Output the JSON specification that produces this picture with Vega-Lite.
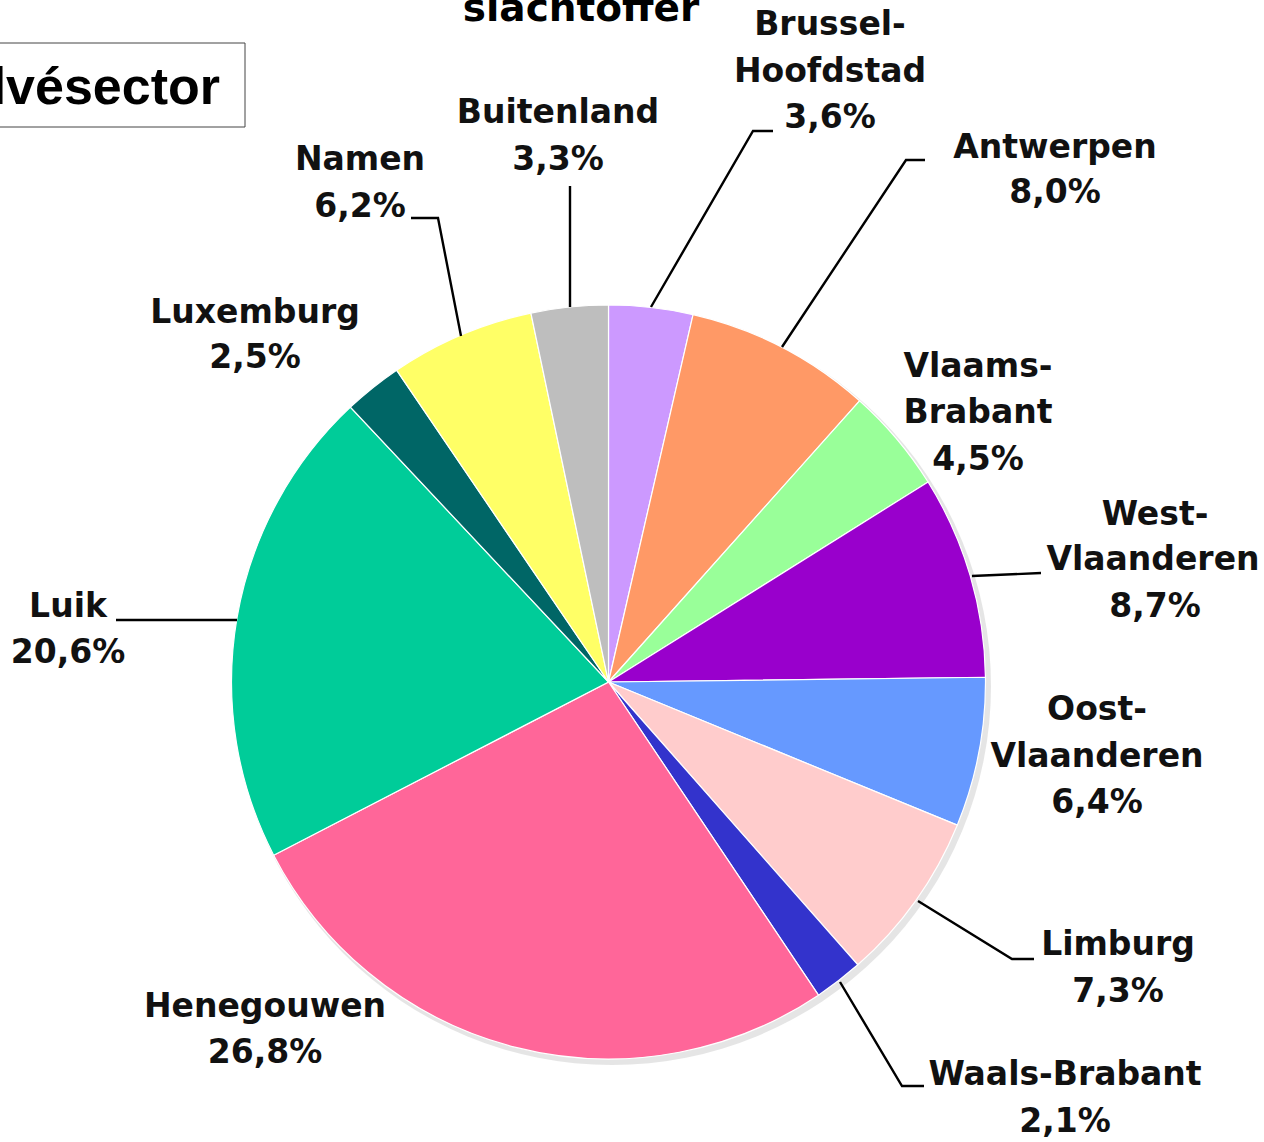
{
  "$schema": "https://vega.github.io/schema/vega-lite/v6.json",
  "width": 1264,
  "height": 1142,
  "autosize": "none",
  "padding": 0,
  "background": "white",
  "config": {"view": {"stroke": null}},
  "layer": [
    {
      "data": {"values": [{"pct": 100}]},
      "mark": {"type": "arc", "outerRadius": 379, "fill": "#888888", "opacity": 0.22},
      "encoding": {
        "theta": {"field": "pct", "type": "quantitative"},
        "x": {"datum": 612, "type": "quantitative", "scale": {"domain": [0, 1264], "nice": false, "zero": false}, "axis": null},
        "y": {"datum": 686, "type": "quantitative", "scale": {"domain": [0, 1142], "nice": false, "zero": false, "reverse": true}, "axis": null}
      }
    },
    {
      "data": {"values": [
        {"region": "Brussel-Hoofdstad", "pct": 3.6, "ord": 1},
        {"region": "Antwerpen", "pct": 8.0, "ord": 2},
        {"region": "Vlaams-Brabant", "pct": 4.5, "ord": 3},
        {"region": "West-Vlaanderen", "pct": 8.7, "ord": 4},
        {"region": "Oost-Vlaanderen", "pct": 6.4, "ord": 5},
        {"region": "Limburg", "pct": 7.3, "ord": 6},
        {"region": "Waals-Brabant", "pct": 2.1, "ord": 7},
        {"region": "Henegouwen", "pct": 26.8, "ord": 8},
        {"region": "Luik", "pct": 20.6, "ord": 9},
        {"region": "Luxemburg", "pct": 2.5, "ord": 10},
        {"region": "Namen", "pct": 6.2, "ord": 11},
        {"region": "Buitenland", "pct": 3.3, "ord": 12}
      ]},
      "mark": {"type": "arc", "outerRadius": 377, "stroke": "white", "strokeWidth": 1.2},
      "encoding": {
        "theta": {"field": "pct", "type": "quantitative", "stack": true},
        "order": {"field": "ord", "type": "quantitative"},
        "color": {
          "field": "region", "type": "nominal", "legend": null,
          "scale": {
            "domain": ["Brussel-Hoofdstad", "Antwerpen", "Vlaams-Brabant", "West-Vlaanderen", "Oost-Vlaanderen", "Limburg", "Waals-Brabant", "Henegouwen", "Luik", "Luxemburg", "Namen", "Buitenland"],
            "range": ["#CC99FF", "#FF9966", "#99FF99", "#9900CC", "#6699FF", "#FFCCCC", "#3333CC", "#FF6699", "#00CC99", "#006666", "#FFFF66", "#BEBEBE"]
          }
        },
        "x": {"datum": 608.5, "type": "quantitative", "scale": {"domain": [0, 1264], "nice": false, "zero": false}, "axis": null},
        "y": {"datum": 682, "type": "quantitative", "scale": {"domain": [0, 1142], "nice": false, "zero": false, "reverse": true}, "axis": null}
      }
    },
    {
      "data": {"values": [
        {"id": "Buitenland", "seq": 1, "x": 570, "y": 186},
        {"id": "Buitenland", "seq": 2, "x": 570, "y": 307},
        {"id": "Namen", "seq": 1, "x": 411, "y": 218},
        {"id": "Namen", "seq": 2, "x": 438, "y": 218},
        {"id": "Namen", "seq": 3, "x": 461, "y": 336},
        {"id": "Brussel", "seq": 1, "x": 773, "y": 131},
        {"id": "Brussel", "seq": 2, "x": 753, "y": 131},
        {"id": "Brussel", "seq": 3, "x": 651, "y": 307},
        {"id": "Antwerpen", "seq": 1, "x": 925, "y": 160},
        {"id": "Antwerpen", "seq": 2, "x": 906, "y": 160},
        {"id": "Antwerpen", "seq": 3, "x": 782, "y": 347},
        {"id": "West", "seq": 1, "x": 972, "y": 576},
        {"id": "West", "seq": 2, "x": 1041, "y": 573},
        {"id": "Luik", "seq": 1, "x": 116, "y": 620},
        {"id": "Luik", "seq": 2, "x": 237, "y": 620},
        {"id": "Limburg", "seq": 1, "x": 918, "y": 901},
        {"id": "Limburg", "seq": 2, "x": 1012, "y": 959},
        {"id": "Limburg", "seq": 3, "x": 1034, "y": 959},
        {"id": "Waals", "seq": 1, "x": 840, "y": 982},
        {"id": "Waals", "seq": 2, "x": 902, "y": 1086},
        {"id": "Waals", "seq": 3, "x": 924, "y": 1086}
      ]},
      "mark": {"type": "line", "color": "black", "strokeWidth": 2.4},
      "encoding": {
        "x": {"field": "x", "type": "quantitative", "scale": {"domain": [0, 1264], "nice": false, "zero": false}, "axis": null},
        "y": {"field": "y", "type": "quantitative", "scale": {"domain": [0, 1142], "nice": false, "zero": false, "reverse": true}, "axis": null},
        "detail": {"field": "id"},
        "order": {"field": "seq", "type": "quantitative"}
      }
    },
    {
      "data": {"values": [{"x1": -10, "x2": 245, "y1": 43, "y2": 127}]},
      "mark": {"type": "rect", "fill": "white", "stroke": "#444444", "strokeWidth": 1},
      "encoding": {
        "x": {"field": "x1", "type": "quantitative", "scale": {"domain": [0, 1264], "nice": false, "zero": false}, "axis": null},
        "x2": {"field": "x2"},
        "y": {"field": "y1", "type": "quantitative", "scale": {"domain": [0, 1142], "nice": false, "zero": false, "reverse": true}, "axis": null},
        "y2": {"field": "y2"}
      }
    },
    {
      "data": {"values": [{"t": "lvésector", "x": 220, "y": 104}]},
      "mark": {"type": "text", "font": "Liberation Sans", "fontWeight": "bold", "fontSize": 52, "align": "right", "baseline": "alphabetic", "color": "black"},
      "encoding": {
        "text": {"field": "t"},
        "x": {"field": "x", "type": "quantitative", "scale": {"domain": [0, 1264], "nice": false, "zero": false}, "axis": null},
        "y": {"field": "y", "type": "quantitative", "scale": {"domain": [0, 1142], "nice": false, "zero": false, "reverse": true}, "axis": null}
      }
    },
    {
      "data": {"values": [{"t": "slachtoffer", "x": 581, "y": 21}]},
      "mark": {"type": "text", "font": "DejaVu Sans", "fontWeight": "bold", "fontSize": 39, "align": "center", "baseline": "alphabetic", "color": "black"},
      "encoding": {
        "text": {"field": "t"},
        "x": {"field": "x", "type": "quantitative", "scale": {"domain": [0, 1264], "nice": false, "zero": false}, "axis": null},
        "y": {"field": "y", "type": "quantitative", "scale": {"domain": [0, 1142], "nice": false, "zero": false, "reverse": true}, "axis": null}
      }
    },
    {
      "data": {"values": [
        {"t": "Buitenland", "x": 558, "y": 113},
        {"t": "3,3%", "x": 558, "y": 160},
        {"t": "Namen", "x": 360, "y": 160},
        {"t": "6,2%", "x": 360, "y": 207},
        {"t": "Luxemburg", "x": 255, "y": 313},
        {"t": "2,5%", "x": 255, "y": 358},
        {"t": "Luik", "x": 68, "y": 607},
        {"t": "20,6%", "x": 68, "y": 653},
        {"t": "Henegouwen", "x": 265, "y": 1007},
        {"t": "26,8%", "x": 265, "y": 1053},
        {"t": "Brussel-", "x": 830, "y": 25},
        {"t": "Hoofdstad", "x": 830, "y": 72},
        {"t": "3,6%", "x": 830, "y": 118},
        {"t": "Antwerpen", "x": 1055, "y": 148},
        {"t": "8,0%", "x": 1055, "y": 193},
        {"t": "Vlaams-", "x": 978, "y": 367},
        {"t": "Brabant", "x": 978, "y": 413},
        {"t": "4,5%", "x": 978, "y": 460},
        {"t": "West-", "x": 1155, "y": 515},
        {"t": "Vlaanderen", "x": 1153, "y": 560},
        {"t": "8,7%", "x": 1155, "y": 607},
        {"t": "Oost-", "x": 1097, "y": 710},
        {"t": "Vlaanderen", "x": 1097, "y": 757},
        {"t": "6,4%", "x": 1097, "y": 803},
        {"t": "Limburg", "x": 1118, "y": 945},
        {"t": "7,3%", "x": 1118, "y": 992},
        {"t": "Waals-Brabant", "x": 1065, "y": 1075},
        {"t": "2,1%", "x": 1065, "y": 1122}
      ]},
      "mark": {"type": "text", "font": "DejaVu Sans", "fontWeight": "bold", "fontSize": 33, "align": "center", "baseline": "middle", "color": "#111111"},
      "encoding": {
        "text": {"field": "t"},
        "x": {"field": "x", "type": "quantitative", "scale": {"domain": [0, 1264], "nice": false, "zero": false}, "axis": null},
        "y": {"field": "y", "type": "quantitative", "scale": {"domain": [0, 1142], "nice": false, "zero": false, "reverse": true}, "axis": null}
      }
    }
  ]
}
